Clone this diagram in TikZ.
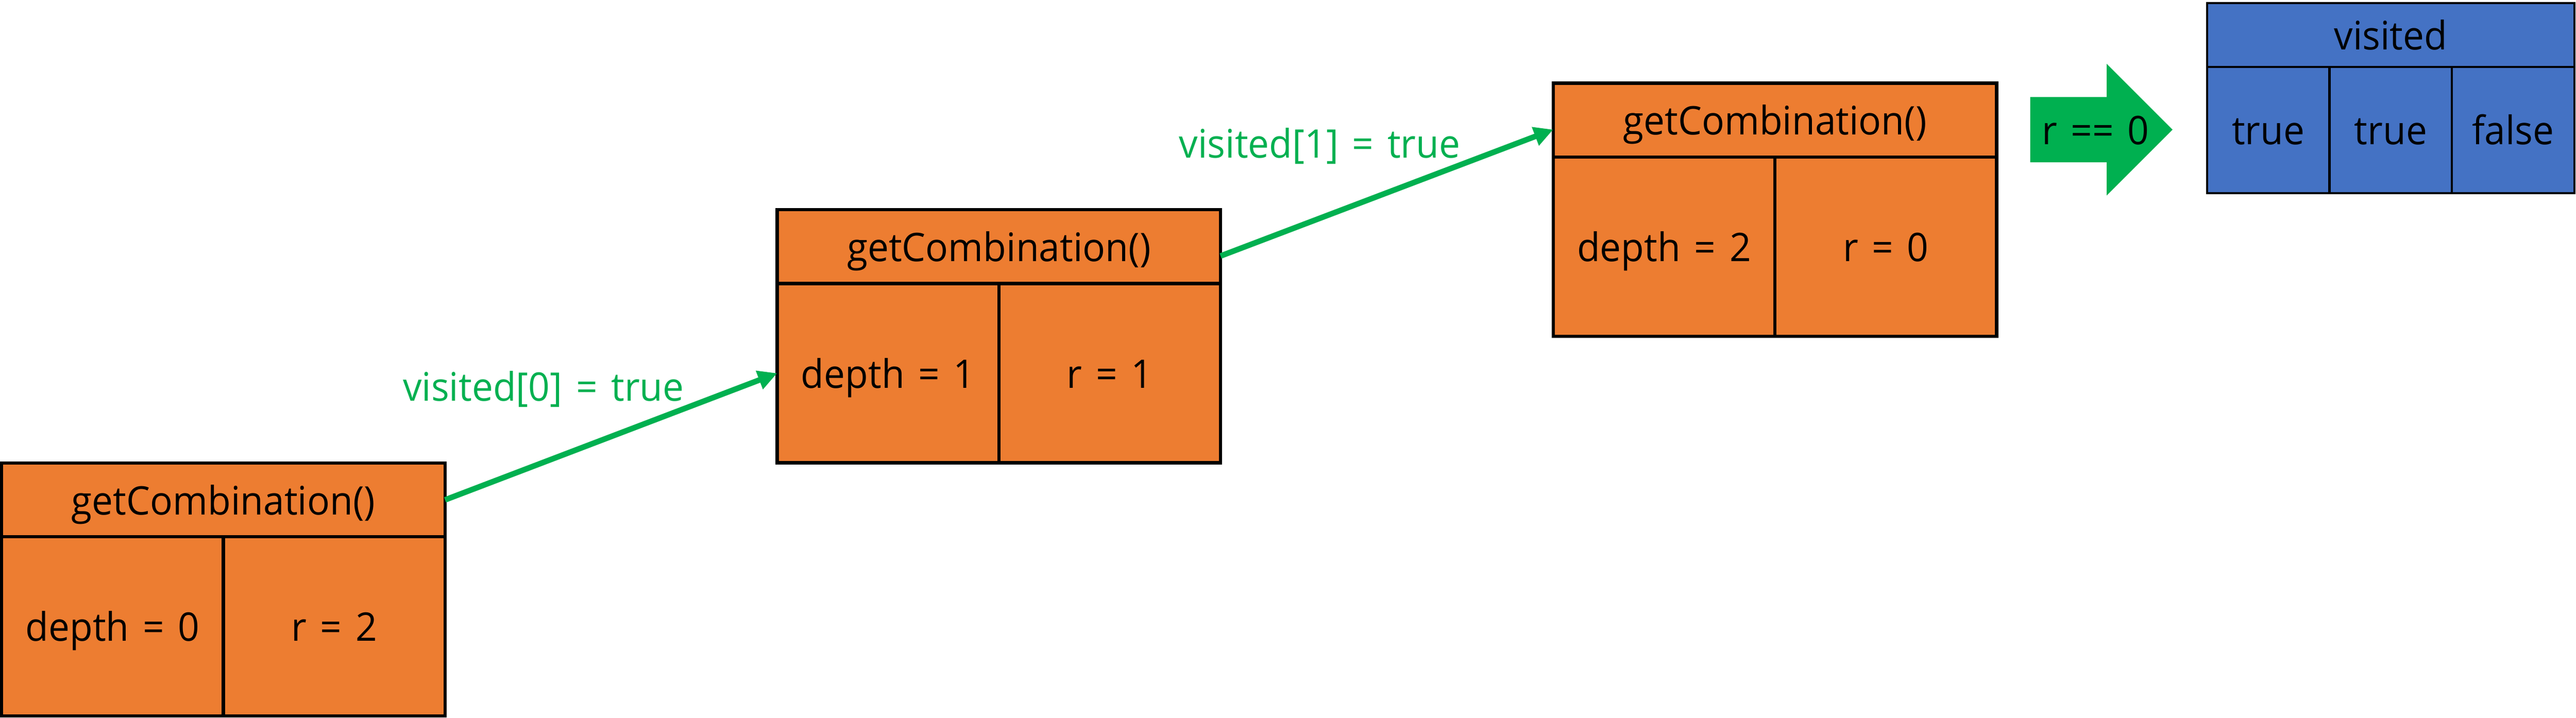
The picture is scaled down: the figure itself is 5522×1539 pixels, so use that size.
\documentclass[tikz,border=0pt]{standalone}
\usepackage{fontspec}
\setmainfont[FakeStretch=0.955,WordSpace=1.4]{Open Sans}
\usetikzlibrary{arrows.meta}
\definecolor{boxorange}{HTML}{ED7D31}
\definecolor{boxblue}{HTML}{4472C4}
\definecolor{mygreen}{HTML}{00B050}
\begin{document}
\begin{tikzpicture}[x=0.01cm,y=-0.01cm,
  every node/.style={font=\fontsize{24}{28}\selectfont, inner sep=0pt, outer sep=0pt,
    text height=0.63cm, text depth=0pt},
  hdr/.style={draw=black, fill=boxorange, line width=0.07cm, minimum width=9.5cm, minimum height=1.585cm},
  cell/.style={draw=black, fill=boxorange, line width=0.07cm, minimum width=4.75cm, minimum height=3.84cm},
  vhdr/.style={draw=black, fill=boxblue, line width=0.045cm, minimum width=7.87cm, minimum height=1.365cm},
  vcell/.style={draw=black, fill=boxblue, line width=0.045cm, minimum width=2.623cm, minimum height=2.71cm},
  lbl/.style={text=mygreen, anchor=base},
  conn/.style={draw=mygreen, line width=0.12cm, -{Triangle[length=0.41cm,width=0.40cm]}}
]
\useasboundingbox (0,0) rectangle (5522,1539);

% box 1
\node[hdr, anchor=north west] (h1) at (3.5,992.5) {getCombination()};
\node[cell, anchor=north west] (d1) at (h1.south west) {depth = 0};
\node[cell, anchor=north east] (r1) at (h1.south east) {r = 2};

% box 2
\node[hdr, anchor=north west] (h2) at (1666,449.5) {getCombination()};
\node[cell, anchor=north west] (d2) at (h2.south west) {depth = 1};
\node[cell, anchor=north east] (r2) at (h2.south east) {r = 1};

% box 3
\node[hdr, anchor=north west] (h3) at (3329.5,178.5) {getCombination()};
\node[cell, anchor=north west] (d3) at (h3.south west) {depth = 2};
\node[cell, anchor=north east] (r3) at (h3.south east) {r = 0};

% visited array
\node[vhdr, anchor=north west] (vh) at (4731,6.5) {visited};
\node[vcell, anchor=north west] (v0) at (vh.south west) {true};
\node[vcell, anchor=north west] (v1) at (v0.north east) {true};
\node[vcell, anchor=north west] (v2) at (v1.north east) {false};

% connectors
\draw[conn] (h1.east) -- (d2.west);
\draw[conn] ([yshift=-0.2cm]h2.east) -- ([yshift=-0.2cm]h3.west);
\node[lbl] (l1) at (1165,860) {visited[0] = true};
\node[lbl] (l2) at (2829,339) {visited[1] = true};

% block arrow
\fill[mygreen] (4352,208) -- (4516,208) -- (4516,137) -- (4657,278) -- (4516,419) -- (4516,348) -- (4352,348) -- cycle;
\node (cond) at (4492,278) {r == 0};
\end{tikzpicture}
\end{document}
